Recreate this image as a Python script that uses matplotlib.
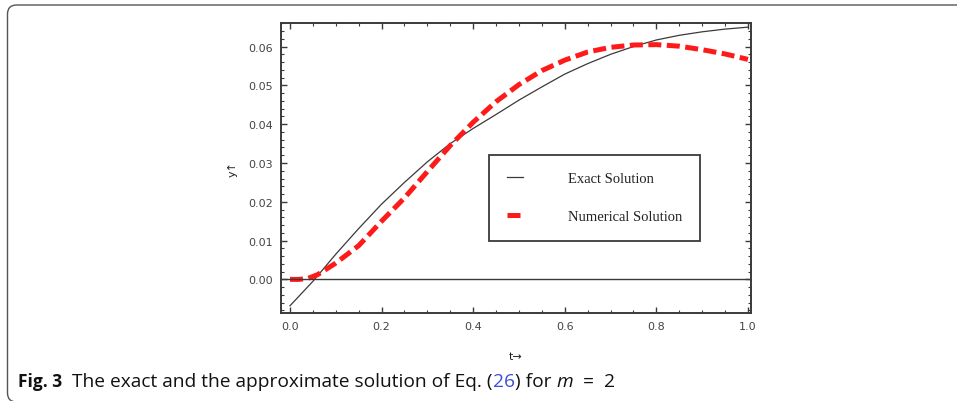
import numpy as np
import matplotlib
matplotlib.use("Agg")
from matplotlib import pyplot as plt
from matplotlib.patches import FancyBboxPatch
from matplotlib.offsetbox import TextArea, HPacker, AnchoredOffsetbox
from matplotlib.ticker import MultipleLocator

# data
t_exact = [0.0, 0.05, 0.1, 0.15, 0.2, 0.25, 0.3, 0.35, 0.4, 0.45, 0.5,
           0.55, 0.6, 0.65, 0.7, 0.75, 0.8, 0.85, 0.9, 0.95, 1.0]
y_exact = [-0.0068, -0.0005, 0.0065, 0.0131, 0.0194, 0.0250, 0.0303, 0.0350,
           0.0389, 0.0425, 0.0462, 0.0496, 0.0529, 0.0556, 0.0580, 0.0600,
           0.0617, 0.0629, 0.0638, 0.0645, 0.0650]

t_num = [0.0, 0.02, 0.04, 0.06, 0.1, 0.15, 0.2, 0.25, 0.3, 0.35, 0.4, 0.45,
         0.5, 0.55, 0.6, 0.65, 0.7, 0.75, 0.8, 0.85, 0.9, 0.95, 1.0]
y_num = [0.0, 0.0, 0.0003, 0.0012, 0.0042, 0.0087, 0.0150, 0.0210, 0.0278,
         0.0345, 0.0405, 0.0458, 0.0502, 0.0538, 0.0565, 0.0586, 0.0598,
         0.0604, 0.0605, 0.0601, 0.0592, 0.0581, 0.0567]

xticks = [0.0, 0.2, 0.4, 0.6, 0.8, 1.0]
yticks = [0.00, 0.01, 0.02, 0.03, 0.04, 0.05, 0.06]

dark = '#3a3a3a'
W, H = 957, 402

fig = plt.figure(figsize=(W / 100, H / 100), dpi=100)

# rounded frame of the figure panel (display pixels, origin bottom-left)
frame = FancyBboxPatch((7.5, -1), 1000, H - 6 + 1, transform=None,
                       boxstyle="round,pad=0,rounding_size=9",
                       fill=False, edgecolor='#555555', linewidth=1.0)
fig.patches.append(frame)

ax = fig.add_axes([0.2936, 0.2189, 0.4908, 0.7207])

ax.plot(t_exact, y_exact, color=dark, lw=0.9, label='Exact Solution')
ax.plot(t_num, y_num, color='#ff1a1a', lw=3.6, dashes=(2.6, 1.1),
        label='Numerical Solution')
ax.axhline(0, color=dark, lw=1.0)

ax.set_xlim(-0.0197, 1.006)
ax.set_ylim(-0.00866, 0.066)
ax.set_xticks(xticks)
ax.set_xticklabels([f'{v:.1f}' for v in xticks])
ax.set_yticks(yticks)
ax.set_yticklabels([f'{v:.2f}' for v in yticks])
ax.xaxis.set_minor_locator(MultipleLocator(0.05))
ax.yaxis.set_minor_locator(MultipleLocator(0.002))
ax.tick_params(which='both', direction='in', top=True, right=True,
               color=dark, labelcolor='#444444', labelsize=8, pad=6)
ax.tick_params(which='major', length=4, width=1.0)
ax.tick_params(which='minor', length=2, width=0.8)
for s in ax.spines.values():
    s.set_color(dark)
    s.set_linewidth(1.4)

ax.set_ylabel('y\u2191', fontsize=8, color='#222222', labelpad=7)
ax.set_xlabel('t\u2192', fontsize=8, color='#222222', labelpad=14)

leg = ax.legend(loc='upper left', bbox_to_anchor=(489 / W, 1 - 155.7 / H),
                bbox_transform=fig.transFigure, frameon=True, fancybox=False,
                edgecolor=dark, framealpha=1,
                prop={'family': 'Liberation Serif', 'size': 10.5},
                handlelength=1.1, handletextpad=3.1, labelspacing=1.7,
                borderpad=1.2, borderaxespad=0)
leg.get_frame().set_linewidth(1.3)
for txt in leg.get_texts():
    txt.set_color('#222222')

# caption
cap_font = ['Open Sans', 'DejaVu Sans']
reg = dict(family=cap_font, size=13.8, color='#111111')
pieces = [
    TextArea('Fig. 3', textprops=dict(family=cap_font, weight='bold', size=12.5, color='#111111')),
    TextArea('  The exact and the approximate solution of Eq. (', textprops=reg),
    TextArea('26', textprops=dict(reg, color='#3b4fd8')),
    TextArea(') for ', textprops=reg),
    TextArea('m', textprops=dict(reg, style='italic')),
    TextArea('  =  2', textprops=reg),
]
box = HPacker(children=pieces, align='baseline', pad=0, sep=0)
anc = AnchoredOffsetbox(loc='lower left', child=box, pad=0, borderpad=0, frameon=False,
                        bbox_to_anchor=(18, H - 391), bbox_transform=None)
fig.add_artist(anc)

fig.savefig('out.png', dpi=100)
